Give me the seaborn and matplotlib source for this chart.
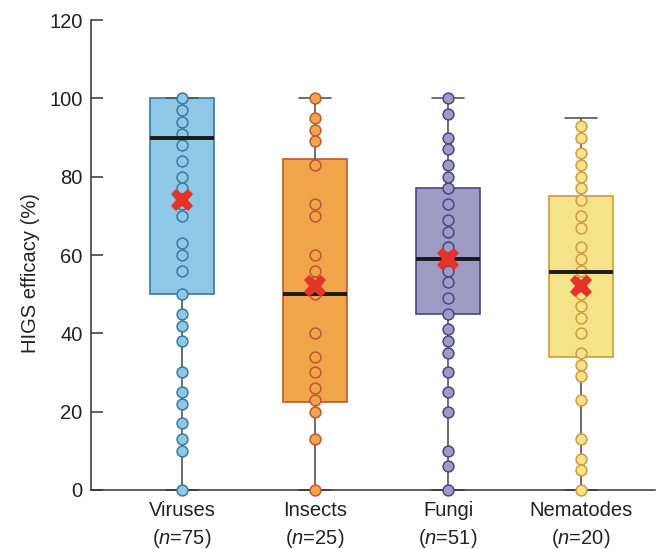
import pandas as pd
import numpy as np
import seaborn as sns
import matplotlib.pyplot as plt

# groups and sample sizes
categories = ["Viruses", "Insects", "Fungi", "Nematodes"]
sample_n = [75, 25, 51, 20]

# visible (overlapping) points
viruses_pts = [100, 97, 94, 91, 88, 84, 80, 77, 73, 70, 63, 60, 56, 50,
               45, 42, 38, 30, 25, 22, 17, 13, 10, 0]
insects_pts = [100, 95, 92, 89, 83, 73, 70, 60, 56, 53, 50, 40, 34, 30,
               26, 23, 20, 13, 0]
fungi_pts = [100, 96, 90, 87, 83, 80, 77, 73, 69, 66, 62, 56, 53, 49, 45,
             41, 38, 35, 30, 25, 20, 10, 6, 0]
nematodes_pts = [93, 90, 86, 83, 80, 77, 74, 70, 67, 62, 59, 56, 53, 50,
                 47, 44, 40, 35, 32, 29, 23, 13, 8, 5, 0]

# box summaries: whisker low, Q1, median, Q3, whisker high
box_low = [0, 0, 0, 0]
box_q1 = [50, 22.5, 45, 34]
box_median = [90, 50, 59, 55.7]
box_q3 = [100, 84.5, 77, 75]
box_high = [100, 100, 100, 95]
group_means = [74, 52, 59, 52]

fills = ["#8ec8e6", "#f0a54a", "#9e9bc4", "#f4e389"]
edges = ["#3b7a99", "#c2562e", "#4b4683", "#d29a3c"]

sns.set_style("ticks")
plt.rcParams["font.family"] = ["Liberation Sans", "DejaVu Sans"]
plt.rcParams["mathtext.fontset"] = "custom"
plt.rcParams["mathtext.rm"] = "Liberation Sans"
plt.rcParams["mathtext.it"] = "Liberation Sans:italic"

points = {"Viruses": viruses_pts, "Insects": insects_pts,
          "Fungi": fungi_pts, "Nematodes": nematodes_pts}
pts_df = pd.concat([pd.DataFrame({"group": k, "value": v}) for k, v in points.items()],
                   ignore_index=True)

box_rows = []
for i, cat in enumerate(categories):
    for v in [box_low[i], box_q1[i], box_median[i], box_q3[i], box_high[i]]:
        box_rows.append({"group": cat, "value": v})
box_df = pd.DataFrame(box_rows)

fig = plt.figure(figsize=(6.59, 5.49), dpi=100)
ax = fig.add_axes([0.138, 0.1075, 0.856, 0.856])

for i, cat in enumerate(categories):
    sns.boxplot(data=box_df[box_df.group == cat], x="group", y="value",
                order=categories, color=fills[i], linecolor=edges[i],
                saturation=1, width=0.48, whis=(0, 100), showfliers=False,
                linewidth=1.2,
                medianprops=dict(color="#1a1a1a", linewidth=2.8, zorder=4),
                whiskerprops=dict(color="#555555", linewidth=1.2),
                capprops=dict(color="#555555", linewidth=1.2),
                ax=ax)

for i, cat in enumerate(categories):
    sns.stripplot(data=pts_df[pts_df.group == cat], x="group", y="value",
                  order=categories, jitter=False, color=fills[i],
                  edgecolor=edges[i], linewidth=1.1, size=7.8, zorder=3,
                  ax=ax)

sns.pointplot(x=categories, y=group_means, order=categories, linestyle="none",
              marker="X", markersize=16, color="#e5332a", ax=ax)

for coll in ax.collections:
    coll.set_clip_on(False)
for ln in ax.lines:
    ln.set_clip_on(False)
    if ln.get_marker() == "X":
        ln.set_zorder(6)
        ln.set_markeredgewidth(0)

ax.set_xlim(-0.684, 3.556)
ax.set_ylim(0, 120)
ax.set_yticks(range(0, 121, 20))
ax.set_xticks(range(len(categories)))
ax.set_xticklabels([f"{c}\n($\\mathit{{n}}$={n})" for c, n in zip(categories, sample_n)],
                   fontsize=14.5, color="#222222", linespacing=1.38)
ax.tick_params(axis="x", length=0, pad=8)
ax.tick_params(axis="y", direction="in", length=8.5, width=1.1, color="#333333",
               labelsize=14.5, labelcolor="#222222", pad=6)
ax.set_xlabel("")
ax.set_ylabel("HIGS efficacy (%)", fontsize=14.5, color="#222222")
ax.yaxis.set_label_coords(-0.09, 0.462)
sns.despine(ax=ax)
for s in ["left", "bottom"]:
    ax.spines[s].set_color("#333333")
    ax.spines[s].set_linewidth(1.1)

fig.savefig("out.png", dpi=100)
